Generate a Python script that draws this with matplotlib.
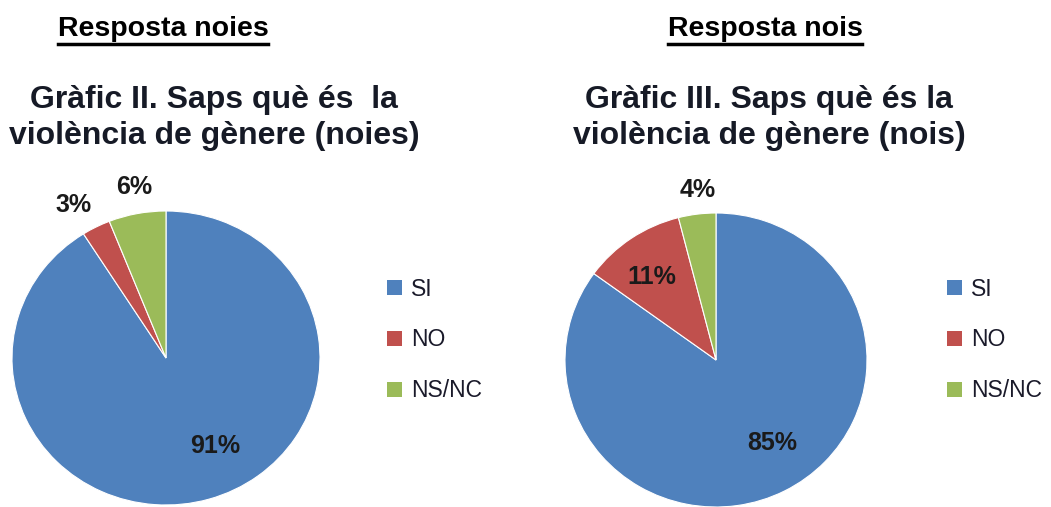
import numpy as np
import matplotlib
matplotlib.use("Agg")
import matplotlib.pyplot as plt
from matplotlib.lines import Line2D
from matplotlib.patches import Patch

# dades
categories = ['SI', 'NO', 'NS/NC']
noies = [91, 3, 6]
nois = [85, 11, 4]
headers = ['Resposta noies', 'Resposta nois']
titles = ['Gràfic II. Saps què és  la\nviolència de gènere (noies)',
          'Gràfic III. Saps què és la\nviolència de gènere (nois)']

colors = ['#4F81BD', '#C0504D', '#9BBB59']

W, H = 1051, 507
fig = plt.figure(figsize=(W / 100, H / 100), dpi=100)

# posicio de les etiquetes (angle, radi) per cada porcio
label_pos = [
    [(-62, 0.68), (120, 1.20), (100, 1.18)],
    [(-56.6, 0.68), (127, 0.71), (96, 1.16)],
]

# centre del pastis (px), radis horitzontal i vertical
pies = [(166, 358, 154, 147), (716, 360, 151, 147)]
title_x = [214, 769]
header_x = [163, 765]
legend_x = [376, 936]

for i, vals in enumerate([noies, nois]):
    cx, cy, rx, ry = pies[i]
    ax = fig.add_axes([(cx - rx) / W, (H - cy - ry) / H, 2 * rx / W, 2 * ry / H])
    wedges, _ = ax.pie(vals, colors=colors, startangle=90, counterclock=False,
                       wedgeprops=dict(linewidth=0.8, edgecolor='white'))
    ax.set_aspect('auto')
    ax.set_xlim(-1, 1)
    ax.set_ylim(-1, 1)
    for v, (ang, r) in zip(vals, label_pos[i]):
        a = np.deg2rad(ang)
        ax.text(r * np.cos(a), r * np.sin(a), f'{v}%', ha='center', va='center',
                fontsize=18, fontweight='bold', color='#1a1a1a',
                family='Liberation Sans')

    # titol del grafic
    fig.text(title_x[i] / W, 1 - 118 / H, titles[i], ha='center', va='center',
             fontsize=23, fontweight='bold', color='#161a26',
             family='Liberation Sans', linespacing=1.25)

    # capcalera subratllada
    fig.text(header_x[i] / W, 1 - 29 / H, headers[i], ha='center', va='center',
             fontsize=20.5, fontweight='bold', color='black',
             family='Liberation Sans')

    handles = [Patch(facecolor=c, edgecolor='none') for c in colors]
    fig.legend(handles, categories, loc='center left',
               bbox_to_anchor=(legend_x[i] / W, 1 - 340 / H),
               frameon=False, handlelength=0.62, handleheight=0.62,
               handletextpad=0.4, labelspacing=1.22, borderpad=0,
               prop=dict(family='Liberation Sans', size=16.5),
               labelcolor='#1a1a2a')

# subratllat de les capcaleres
fig.canvas.draw()
renderer = fig.canvas.get_renderer()
for t in fig.texts:
    if t.get_text() in headers:
        bb = t.get_window_extent(renderer)
        y = 507 - 44
        fig.add_artist(Line2D([bb.x0 / W, bb.x1 / W], [y / H, y / H],
                              transform=fig.transFigure, color='black',
                              linewidth=2.5))

fig.savefig('out.png', dpi=100)
